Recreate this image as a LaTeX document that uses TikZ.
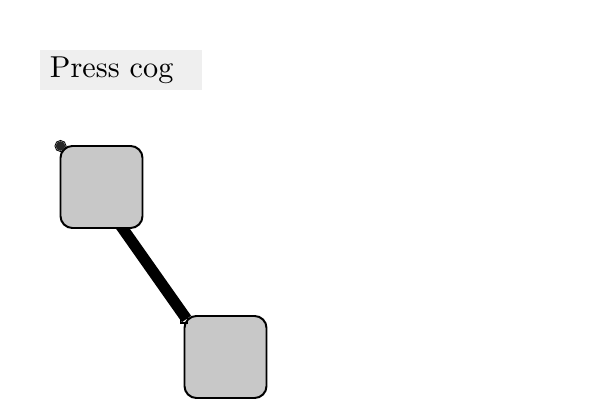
\documentclass[tikz,border=0pt]{standalone}
\usepackage{tikz}
\usepackage{graphicx}
\usetikzlibrary{calc,backgrounds}

\definecolor{labelgray}{HTML}{EFEFEF}
\definecolor{coggray}{HTML}{C8C8C8}

\tikzset{
  cogbox/.style={draw=black,line width=1.4pt,fill=coggray,rounded corners=0.3cm,
    minimum width=2.05cm,minimum height=2.05cm,inner sep=0pt},
  presslabel/.style={fill=labelgray,minimum width=4.05cm,minimum height=1cm,
    text width=3.55cm,align=left,inner xsep=0.25cm,inner ysep=0pt}
}

\begin{document}
\begin{tikzpicture}[x=0.025cm,y=-0.025cm]

\useasboundingbox (0,0) rectangle (600,400);

% label
\node[presslabel] (press) at (121,70) {\scalebox{2.15}{Press cog}};

% cogs
\node[cogbox] (cogA) at (101.5,187) {};
\node[cogbox] (cogB) at (225.5,357) {};

% link (behind the cogs)
\begin{scope}[on background layer]
\draw[line width=8pt] ($(cogA.center)+(-8,0)$) -- ($(cogB.north west)+(3,4)$);
\end{scope}

% corner marks
\fill[black!85] ($(cogA.north west)+(1,1)$) circle (0.12cm);
\draw[line width=0.6pt] ($(cogA.north west)+(1,1)$) circle (0.14cm);
\draw[line width=0.8pt] ($(cogB.north west)+(-3,2)$) rectangle ++(7,6);

\end{tikzpicture}
\end{document}
